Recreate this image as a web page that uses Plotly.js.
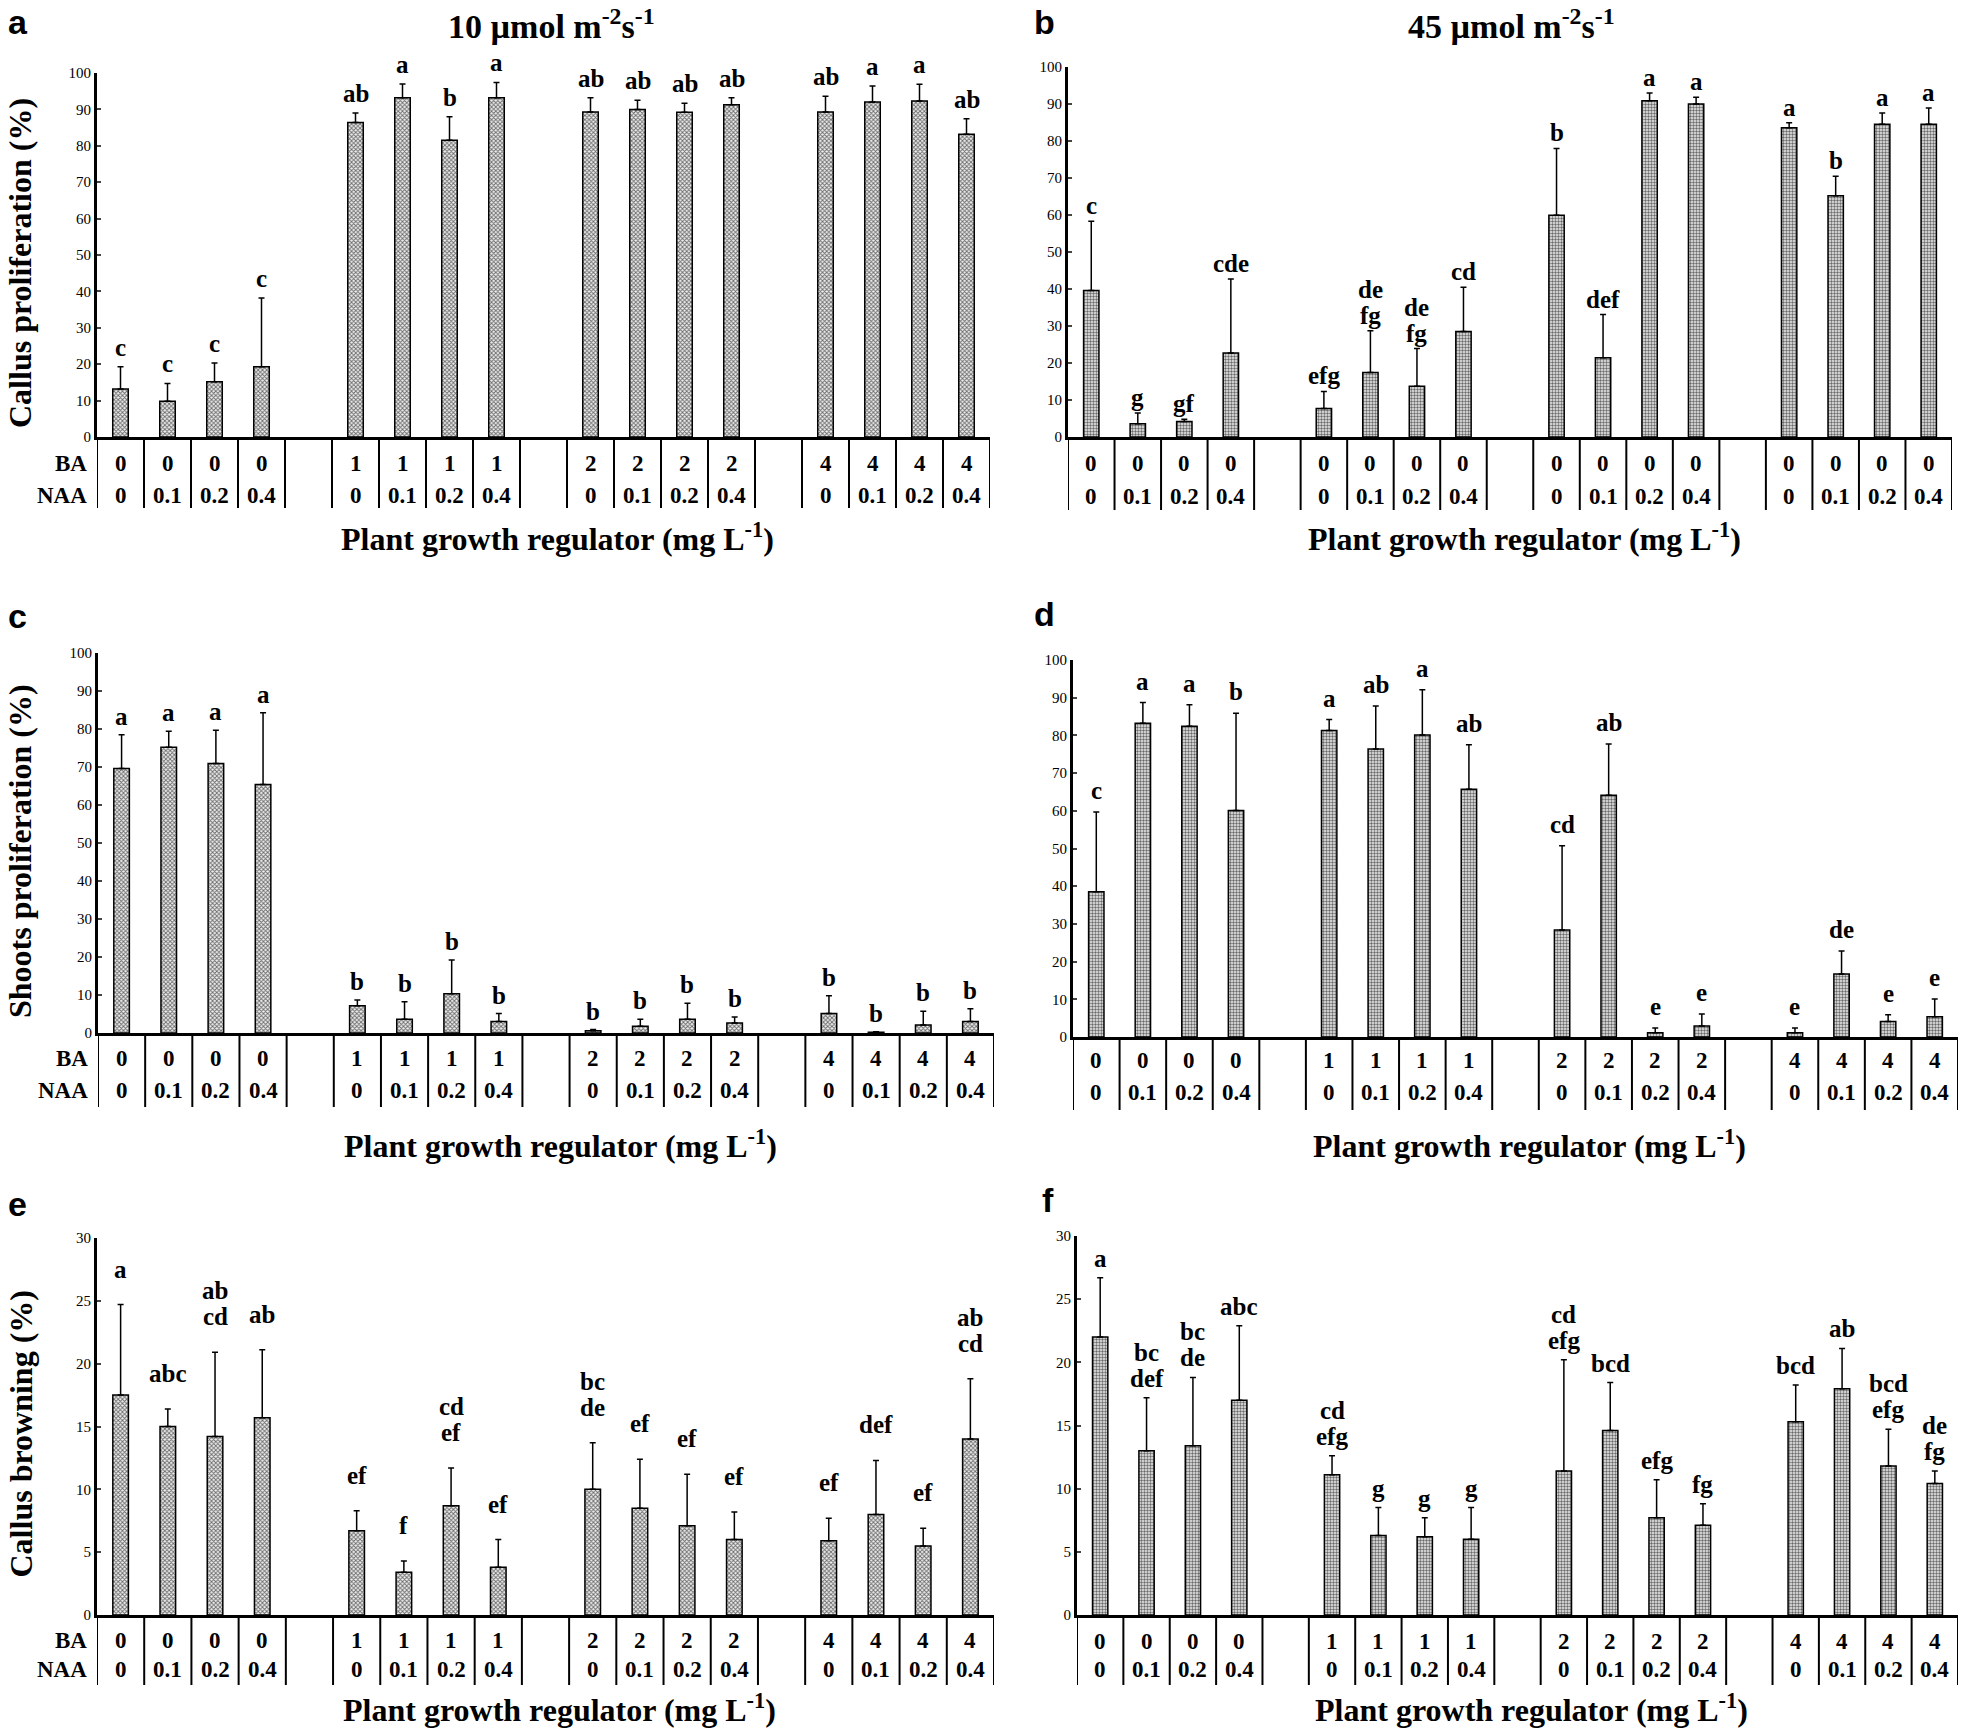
<!DOCTYPE html>
<html>
<head>
<meta charset="utf-8">
<script src="https://cdn.plot.ly/plotly-3.0.1.min.js"></script>
<style>
body { margin: 0; background: #fff; }
#chart { width: 1961px; height: 1731px; }
</style>
</head>
<body>
<div id="chart"></div>
<script>
// treatment table (BA / NAA, mg L-1)
const baRow = ['0', '0', '0', '0', '1', '1', '1', '1', '2', '2', '2', '2', '4', '4', '4', '4'];
const baRowB = ['0', '0', '0', '0', '0', '0', '0', '0', '0', '0', '0', '0', '0', '0', '0', '0'];
const naaRow = ['0', '0.1', '0.2', '0.4', '0', '0.1', '0.2', '0.4', '0', '0.1', '0.2', '0.4', '0', '0.1', '0.2', '0.4'];

// a: callus proliferation, 10 umol
const callus10 = [13.2, 9.8, 15.2, 19.3, 86.4, 93.2, 81.5, 93.2, 89.3, 90.0, 89.2, 91.3, 89.3, 92.0, 92.3, 83.2];
const callus10Sd = [6.1, 4.9, 5.1, 18.9, 2.6, 3.8, 6.5, 4.2, 3.9, 2.5, 2.5, 1.9, 4.3, 4.4, 4.6, 4.2];
const callus10Lbl = ['c', 'c', 'c', 'c', 'ab', 'a', 'b', 'a', 'ab', 'ab', 'ab', 'ab', 'ab', 'a', 'a', 'ab'];

// b: callus proliferation, 45 umol
const callus45 = [39.6, 3.6, 4.2, 22.7, 7.7, 17.4, 13.7, 28.5, 59.9, 21.4, 90.9, 90.0, 83.6, 65.2, 84.5, 84.5];
const callus45Sd = [18.7, 2.9, 0.6, 20.0, 4.6, 11.3, 10.2, 12.0, 18.1, 11.7, 2.1, 1.8, 1.3, 5.3, 3.1, 4.4];
const callus45Lbl = ['c', 'g', 'gf', 'cde', 'efg', 'de<br>fg', 'de<br>fg', 'cd', 'b', 'def', 'a', 'a', 'a', 'b', 'a', 'a'];

// c: shoots proliferation, 10 umol
const shoots10 = [69.6, 75.2, 70.9, 65.4, 7.2, 3.6, 10.3, 3.0, 0.6, 1.8, 3.6, 2.6, 5.1, 0.2, 2.1, 3.0];
const shoots10Sd = [8.9, 4.2, 8.8, 18.9, 1.5, 4.6, 8.9, 2.1, 0.3, 1.8, 4.2, 1.6, 4.7, 0.1, 3.6, 3.4];
const shoots10Lbl = ['a', 'a', 'a', 'a', 'b', 'b', 'b', 'b', 'b', 'b', 'b', 'b', 'b', 'b', 'b', 'b'];

// d: shoots proliferation, 45 umol
const shoots45 = [38.5, 83.2, 82.4, 60.1, 81.3, 76.4, 80.1, 65.7, 28.4, 64.1, 1.1, 2.9, 1.1, 16.7, 4.1, 5.4];
const shoots45Sd = [21.2, 5.5, 5.7, 25.8, 2.9, 11.4, 12.0, 11.8, 22.3, 13.6, 1.3, 3.2, 1.3, 6.1, 1.8, 4.7];
const shoots45Lbl = ['c', 'a', 'a', 'b', 'a', 'ab', 'a', 'ab', 'cd', 'ab', 'e', 'e', 'e', 'de', 'e', 'e'];

// e: callus browning, 10 umol
const brown10 = [17.5, 15.0, 14.2, 15.7, 6.7, 3.4, 8.7, 3.8, 10.0, 8.5, 7.1, 6.0, 5.9, 8.0, 5.5, 14.0];
const brown10Sd = [7.2, 1.4, 6.7, 5.4, 1.6, 0.9, 3.0, 2.2, 3.7, 3.9, 4.1, 2.2, 1.8, 4.3, 1.4, 4.8];
const brown10Lbl = ['a', 'abc', 'ab<br>cd', 'ab', 'ef', 'f', 'cd<br>ef', 'ef', 'bc<br>de', 'ef', 'ef', 'ef', 'ef', 'def', 'ef', 'ab<br>cd'];

// f: callus browning, 45 umol
const brown45 = [22.0, 13.0, 13.4, 17.0, 11.1, 6.3, 6.2, 6.0, 11.4, 14.6, 7.7, 7.1, 15.3, 17.9, 11.8, 10.4];
const brown45Sd = [4.7, 4.2, 5.4, 5.9, 1.5, 2.2, 1.5, 2.5, 8.8, 3.8, 3.0, 1.7, 2.9, 3.2, 2.9, 1.0];
const brown45Lbl = ['a', 'bc<br>def', 'bc<br>de', 'abc', 'cd<br>efg', 'g', 'g', 'g', 'cd<br>efg', 'bcd', 'efg', 'fg', 'bcd', 'ab', 'bcd<br>efg', 'de<br>fg'];

const W = 1961, H = 1731;
const SERIF = 'Liberation Serif, Times New Roman, serif';
const SANS = 'Liberation Sans, Arial, sans-serif';

// panel geometry in pixels: plot box, table rows, x title, panel letter, gap above error bars
const panels = [
  { id: 'a', y: callus10, sd: callus10Sd, lbl: callus10Lbl, ba: baRow, ymax: 100, dtick: 10, pat: 'x',
    x0: 97, x1: 990, top: 73, bot: 437, baY: 463, naaY: 495, tblBot: 508, titleY: 537, rowNames: true,
    letX: 6, letY: 22, gap: 4, ytitle: 'Callus proliferation (%)' },
  { id: 'b', y: callus45, sd: callus45Sd, lbl: callus45Lbl, ba: baRowB, ymax: 100, dtick: 10, pat: '.',
    x0: 1068, x1: 1952, top: 67, bot: 437, baY: 463, naaY: 497, tblBot: 510, titleY: 537, rowNames: false,
    letX: 1032, letY: 22, gap: 0 },
  { id: 'c', y: shoots10, sd: shoots10Sd, lbl: shoots10Lbl, ba: baRow, ymax: 100, dtick: 10, pat: 'x',
    x0: 98, x1: 994, top: 653, bot: 1033, baY: 1058, naaY: 1090, tblBot: 1107, titleY: 1144, rowNames: true,
    letX: 6, letY: 616, gap: 3, ytitle: 'Shoots proliferation (%)' },
  { id: 'd', y: shoots45, sd: shoots45Sd, lbl: shoots45Lbl, ba: baRow, ymax: 100, dtick: 10, pat: '.',
    x0: 1073, x1: 1958, top: 660, bot: 1037, baY: 1060, naaY: 1092, tblBot: 1110, titleY: 1144, rowNames: false,
    letX: 1032, letY: 614, gap: 6 },
  { id: 'e', y: brown10, sd: brown10Sd, lbl: brown10Lbl, ba: baRow, ymax: 30, dtick: 5, pat: 'x',
    x0: 97, x1: 994, top: 1238, bot: 1615, baY: 1640, naaY: 1669, tblBot: 1685, titleY: 1708, rowNames: true,
    letX: 6, letY: 1204, gap: 20, ytitle: 'Callus browning (%)' },
  { id: 'f', y: brown45, sd: brown45Sd, lbl: brown45Lbl, ba: baRow, ymax: 30, dtick: 5, pat: '.',
    x0: 1077, x1: 1958, top: 1236, bot: 1615, baY: 1641, naaY: 1669, tblBot: 1685, titleY: 1708, rowNames: false,
    letX: 1040, letY: 1200, gap: 4 }
];

const px = v => v / W;
const py = v => 1 - v / H;
// 4 treatments per BA level, one empty slot between groups
const slotOf = i => Math.floor(i / 4) * 5 + (i % 4) + 1;

const traces = [];
const shapes = [];
const annotations = [];
const layout = {
  width: W, height: H,
  margin: { l: 0, r: 0, t: 0, b: 0 },
  paper_bgcolor: '#fff', plot_bgcolor: 'rgba(0,0,0,0)',
  showlegend: false,
  font: { family: SERIF, color: '#000' }
};

function note(o) {
  annotations.push(Object.assign({ showarrow: false, xanchor: 'center', yanchor: 'middle' }, o));
}

panels.forEach((p, k) => {
  const n = k === 0 ? '' : String(k + 1);
  const xr = 'x' + n, yr = 'y' + n;
  const xs = p.y.map((_, i) => slotOf(i));

  traces.push({
    type: 'bar', x: xs, y: p.y, xaxis: xr, yaxis: yr, width: 0.33,
    marker: {
      color: '#d0d0d0',
      line: { color: '#000', width: 1.5 },
      pattern: { shape: p.pat, size: 3, solidity: 0.5, fgcolor: '#6a6a6a', bgcolor: '#eeeeee' }
    },
    error_y: { type: 'data', symmetric: false, array: p.sd, arrayminus: p.sd.map(() => 0),
      color: '#000', thickness: 1.5, width: 3 },
    hoverinfo: 'skip'
  });

  layout['xaxis' + n] = {
    domain: [px(p.x0), px(p.x1)], anchor: yr, range: [0.5, 19.5],
    showline: true, linecolor: '#000', linewidth: 3, showticklabels: false, ticks: '',
    showgrid: false, zeroline: false, fixedrange: true
  };
  layout['yaxis' + n] = {
    domain: [py(p.bot), py(p.top)], anchor: xr, range: [0, p.ymax], dtick: p.dtick,
    showline: true, linecolor: '#000', linewidth: 3, ticks: 'inside', ticklen: 4, tickwidth: 2,
    tickfont: { family: SERIF, size: 15, color: '#000' },
    showgrid: false, zeroline: false, fixedrange: true
  };

  // table lines below the axis
  for (let b = 0; b <= 19; b++) {
    shapes.push({ type: 'line', xref: xr, yref: 'paper', x0: b + 0.5, x1: b + 0.5,
      y0: py(p.bot), y1: py(p.tblBot), line: { color: '#000', width: 2 } });
  }

  const cell = { family: SERIF, size: 23, color: '#000' };
  xs.forEach((x, i) => {
    note({ xref: xr, yref: 'paper', x: x, y: py(p.baY), text: '<b>' + p.ba[i] + '</b>', font: cell });
    note({ xref: xr, yref: 'paper', x: x, y: py(p.naaY), text: '<b>' + naaRow[i] + '</b>', font: cell });
    // significance letters, stacked lines drawn one by one to keep them tight
    const lines = p.lbl[i].split('<br>').reverse();
    lines.forEach((t, j) => {
      note({ xref: xr, yref: yr, x: x, y: p.y[i] + p.sd[i], text: '<b>' + t + '</b>',
        yanchor: 'bottom', yshift: p.gap + j * 26,
        font: { family: SERIF, size: 25, color: '#000' } });
    });
  });

  if (p.rowNames) {
    note({ xref: 'paper', yref: 'paper', x: px(p.x0 - 8), y: py(p.baY), text: '<b>BA</b>',
      xanchor: 'right', font: cell });
    note({ xref: 'paper', yref: 'paper', x: px(p.x0 - 8), y: py(p.naaY), text: '<b>NAA</b>',
      xanchor: 'right', font: cell });
    note({ xref: 'paper', yref: 'paper', x: px(20), y: py((p.top + p.bot) / 2 + 8),
      text: '<b>' + p.ytitle + '</b>', textangle: -90,
      font: { family: SERIF, size: 32, color: '#000' } });
  }

  note({ xref: 'paper', yref: 'paper', x: px((p.x0 + p.x1) / 2 + 14), y: py(p.titleY),
    text: '<b>Plant growth regulator (mg L<sup>-1</sup>)</b>',
    font: { family: SERIF, size: 32, color: '#000' } });

  // panel letter
  note({ xref: 'paper', yref: 'paper', x: px(p.letX), y: py(p.letY), text: '<b>' + p.id + '</b>',
    xanchor: 'left', font: { family: SANS, size: 34, color: '#000' } });
});

// light intensity headers
note({ xref: 'paper', yref: 'paper', x: px(551), y: py(24),
  text: '<b>10 \u00b5mol m<sup>-2</sup>s<sup>-1</sup></b>',
  font: { family: SERIF, size: 34, color: '#000' } });
note({ xref: 'paper', yref: 'paper', x: px(1511), y: py(24),
  text: '<b>45 \u00b5mol m<sup>-2</sup>s<sup>-1</sup></b>',
  font: { family: SERIF, size: 34, color: '#000' } });

layout.shapes = shapes;
layout.annotations = annotations;

Plotly.newPlot('chart', traces, layout, { staticPlot: true, displayModeBar: false });
</script>
</body>
</html>
